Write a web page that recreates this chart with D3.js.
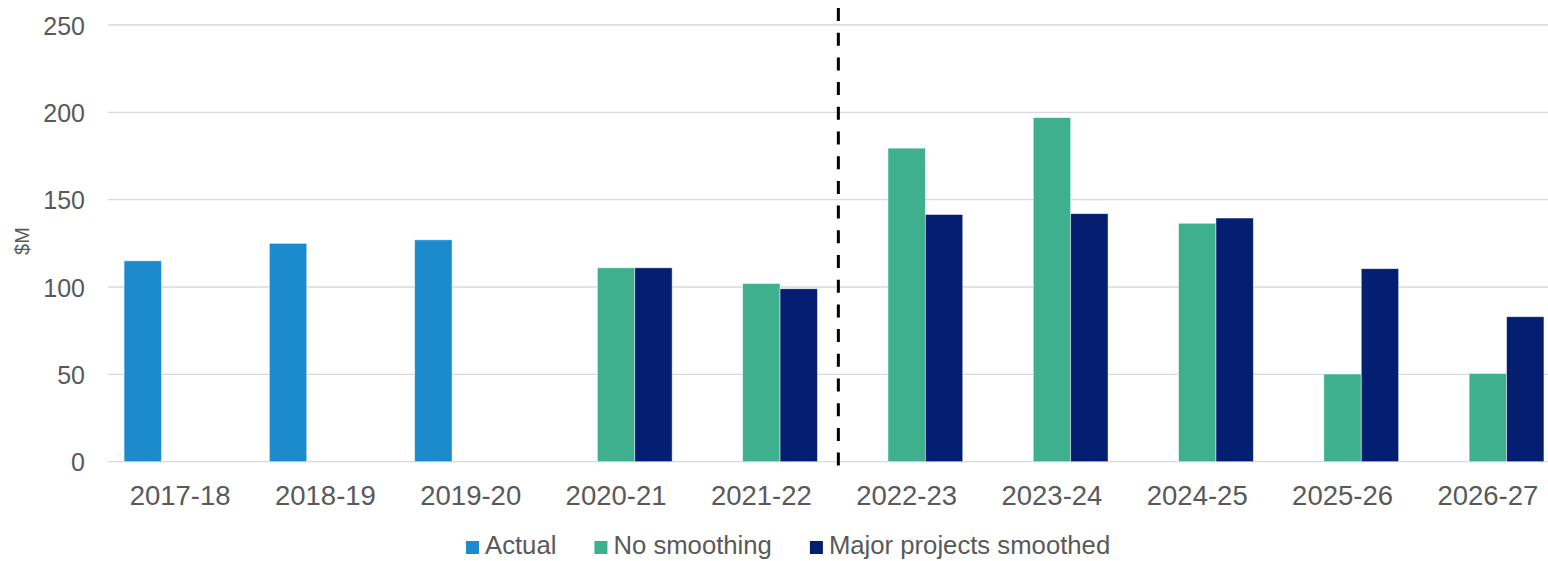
<!DOCTYPE html>
<html>
<head>
<meta charset="utf-8">
<script src="https://cdn.jsdelivr.net/npm/d3@7/dist/d3.min.js"></script>
<style>
  html, body { margin: 0; padding: 0; background: #fff; }
  svg { display: block; font-family: "Liberation Sans", Arial, sans-serif; }
</style>
</head>
<body>
<svg id="chart" width="1548" height="561"></svg>
<script>
const categories = ["2017-18","2018-19","2019-20","2020-21","2021-22","2022-23","2023-24","2024-25","2025-26","2026-27"];
const seriesNames = ["Actual","No smoothing","Major projects smoothed"];
const actual = [115, 125, 127, null, null, null, null, null, null, null];
const noSmoothing = [null, null, null, 111, 102, 179.5, 197, 136.5, 50.2, 50.5];
const majorSmoothed = [null, null, null, 111, 99, 141.5, 142, 139.5, 110.5, 83];
const yTicks = [0, 50, 100, 150, 200, 250];
const dividerIndex = 4.53; // between 2021-22 and 2022-23 (category units)
const colors = ["#1B8BCD", "#3EB08E", "#041F72"];

const svg = d3.select("#chart");
const left = 107.5, step = 145.3;
const x0 = d3.scaleBand().domain(categories).range([left, left + step * categories.length]).padding(0);
const x1 = d3.scaleBand().domain(seriesNames).range([0, x0.bandwidth()]).paddingInner(0).paddingOuter(0.4425);
const y = d3.scaleLinear().domain([0, 250]).range([461.7, 25]);
const xIdx = d3.scaleLinear().domain([0, 1]).range([x0(categories[0]) + x0.bandwidth() / 2, x0(categories[1]) + x0.bandwidth() / 2]);

// gridlines
svg.append("g").selectAll("line").data(yTicks).join("line")
  .attr("x1", 108).attr("x2", 1548)
  .attr("y1", d => y(d)).attr("y2", d => y(d))
  .attr("stroke", "#d9d9d9").attr("stroke-width", 1.3);

// y axis labels
const yAxis = d3.axisLeft(y).tickValues(yTicks).tickSize(0).tickPadding(0);
const gy = svg.append("g").attr("transform", "translate(85,0)").call(yAxis);
gy.select(".domain").remove();
gy.selectAll("text").attr("font-size", 25).attr("fill", "#595959")
  .attr("font-family", '"Liberation Sans", Arial, sans-serif').attr("dy", "0.36em");

// axis title
svg.append("text").attr("transform", "translate(29,241) rotate(-90)")
  .attr("text-anchor", "middle").attr("font-size", 20).attr("fill", "#595959").text("$M");

// bars
const seriesData = [actual, noSmoothing, majorSmoothed];
seriesData.forEach((vals, si) => {
  svg.append("g").selectAll("rect")
    .data(categories.map((c, i) => ({c, v: vals[i]})).filter(d => d.v != null))
    .join("rect")
    .attr("x", d => x0(d.c) + x1(seriesNames[si]))
    .attr("width", x1.bandwidth())
    .attr("y", d => y(d.v))
    .attr("height", d => y(0) - y(d.v))
    .attr("fill", colors[si])
    .attr("stroke", "#ffffff").attr("stroke-width", 0.8).attr("stroke-opacity", 0.6);
});

// x labels
const xAxis = d3.axisBottom(x0).tickSize(0).tickPadding(0);
const gx = svg.append("g").attr("transform", "translate(0,505)").call(xAxis);
gx.select(".domain").remove();
gx.selectAll("text").attr("font-size", 27.5).attr("fill", "#595959")
  .attr("font-family", '"Liberation Sans", Arial, sans-serif').attr("dy", 0);

// divider
svg.append("line")
  .attr("x1", xIdx(dividerIndex)).attr("x2", xIdx(dividerIndex))
  .attr("y1", 8).attr("y2", 466)
  .attr("stroke", "#000").attr("stroke-width", 3).attr("stroke-dasharray", "13,11.7");

// legend
const legend = svg.append("g");
let lx = 466;
seriesNames.forEach((name, i) => {
  const g = legend.append("g");
  g.append("rect").attr("x", lx).attr("y", 541).attr("width", 13).attr("height", 13).attr("fill", colors[i]);
  const t = g.append("text").attr("x", lx + 19).attr("y", 554).attr("font-size", 25.7).attr("fill", "#595959").text(name);
  lx += 19 + t.node().getComputedTextLength() + 38;
});
</script>
</body>
</html>
